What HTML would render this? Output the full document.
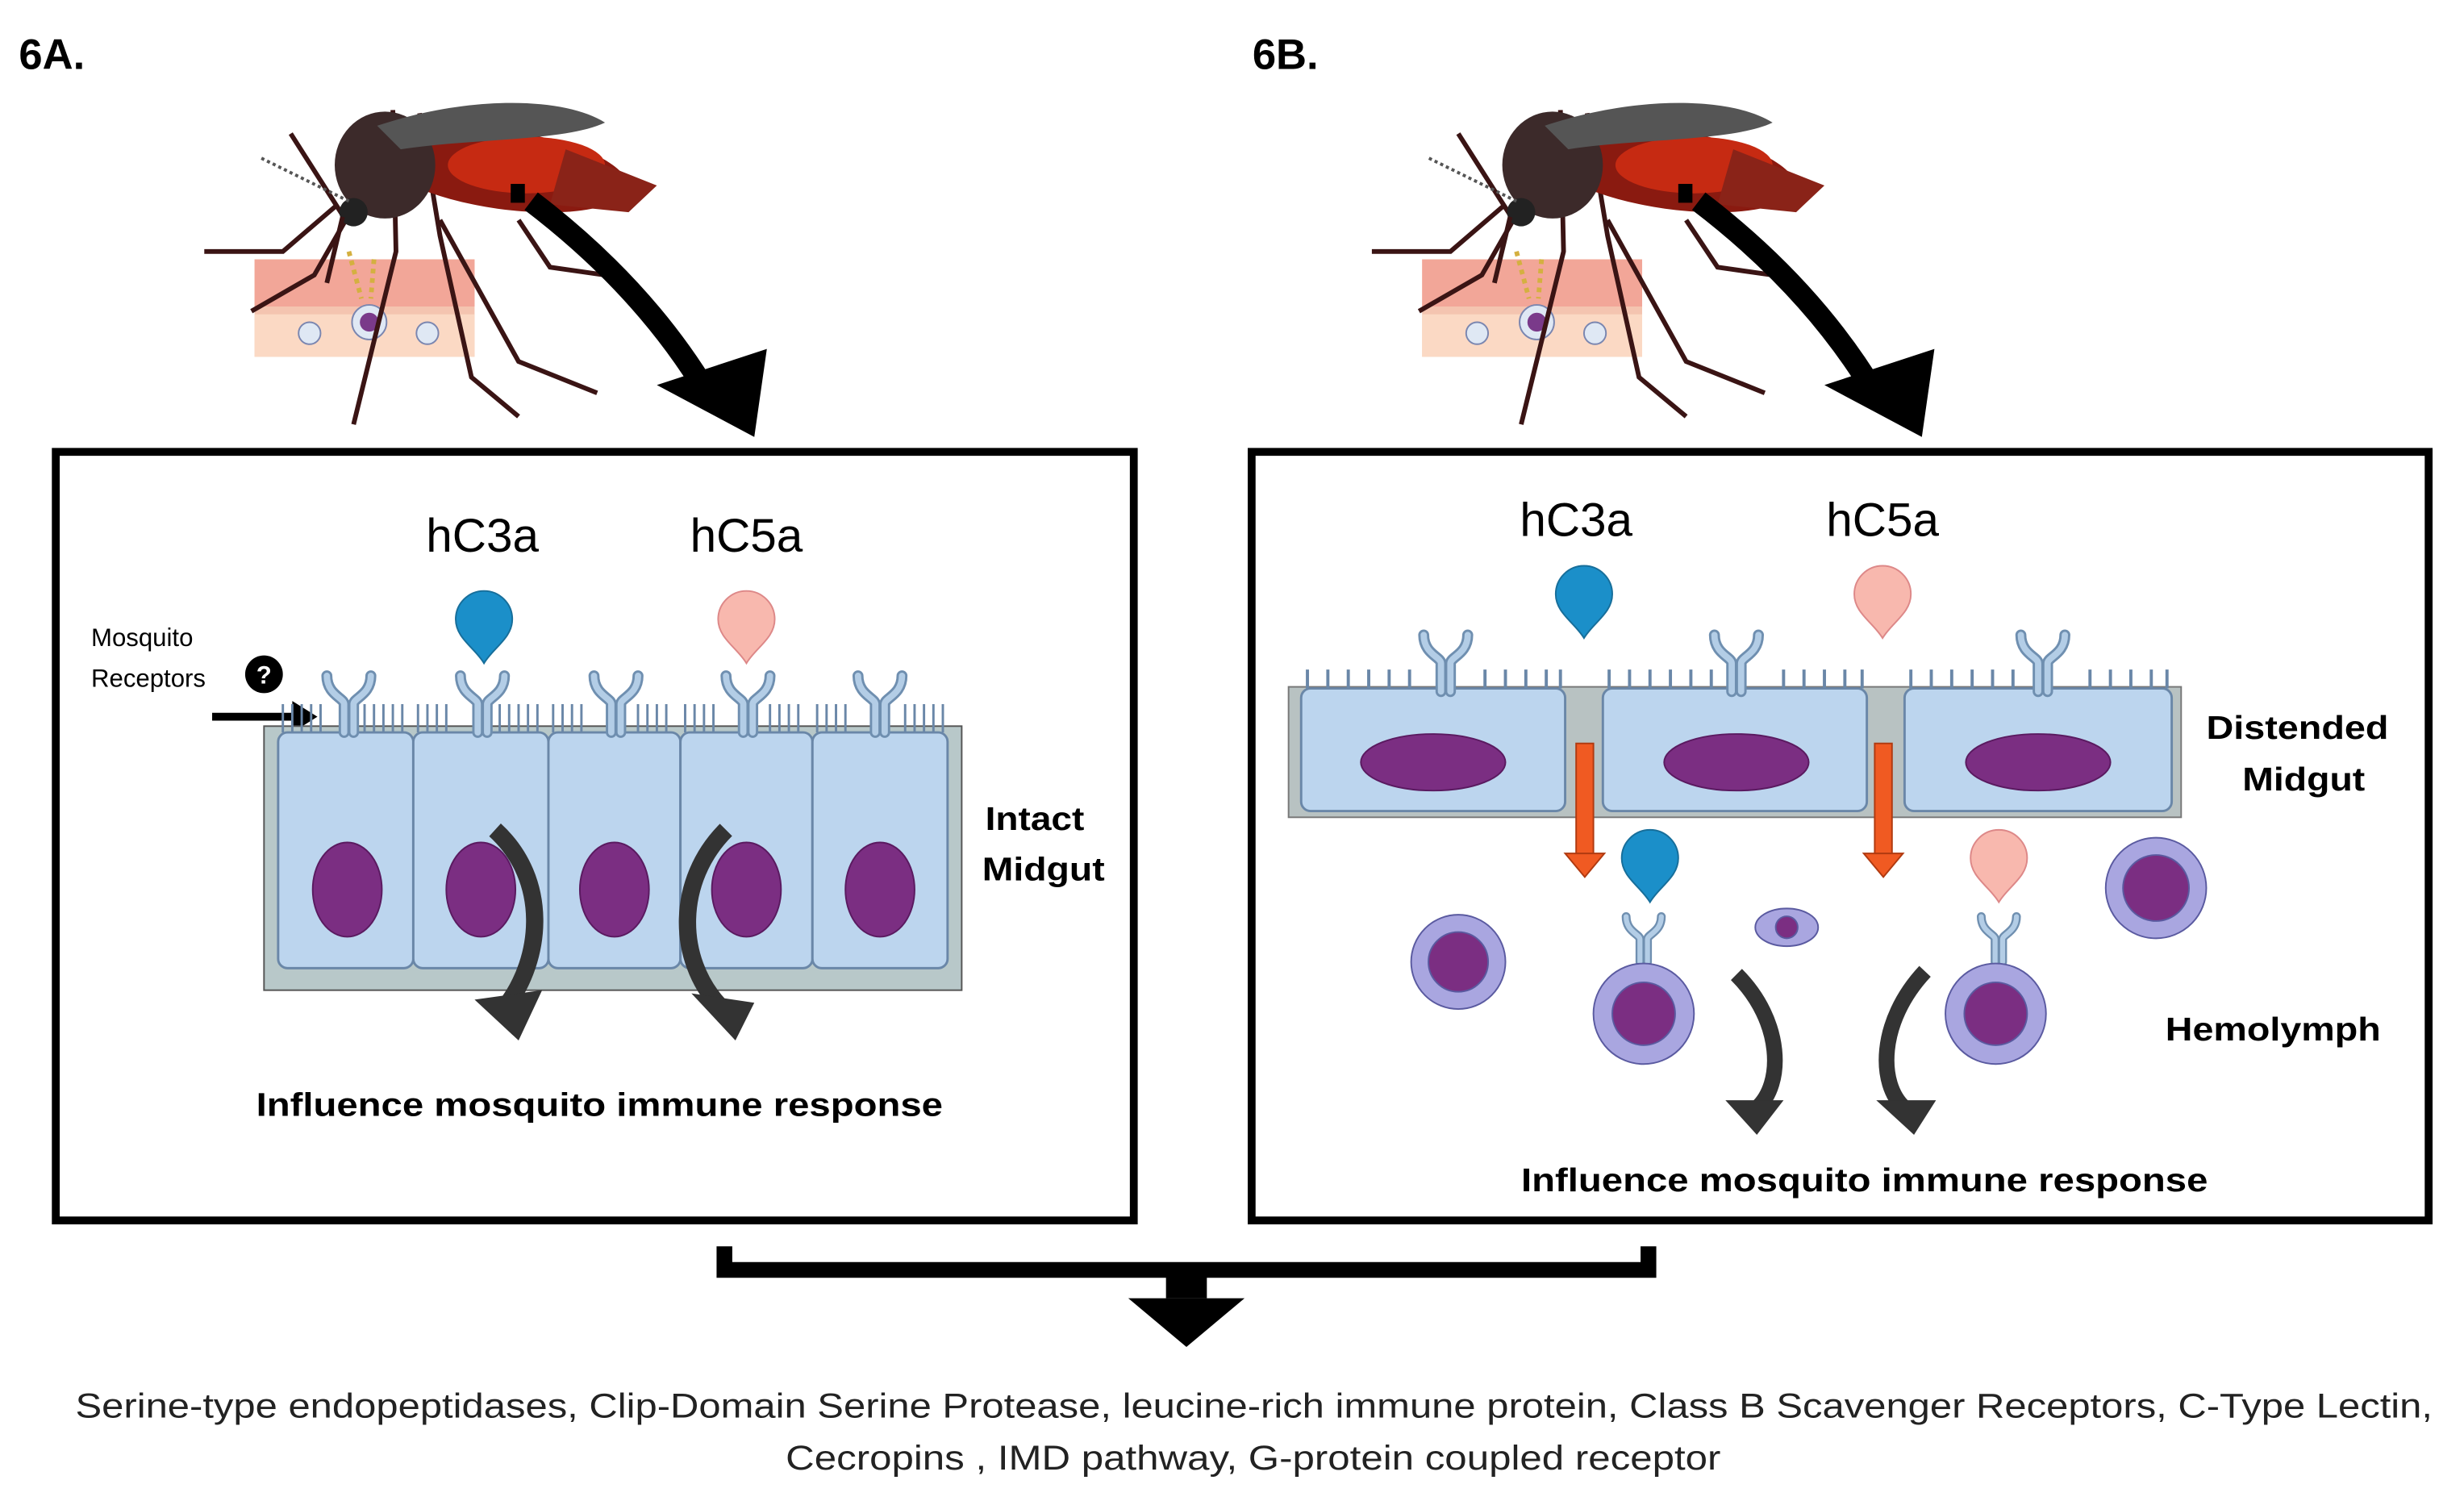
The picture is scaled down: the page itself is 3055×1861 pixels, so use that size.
<!DOCTYPE html>
<html><head><meta charset="utf-8"><style>
html,body{margin:0;padding:0;background:#fff}
svg{display:block}
text{font-family:"Liberation Sans",sans-serif}
</style></head><body>
<svg width="3055" height="1861" viewBox="0 0 1568 955" preserveAspectRatio="none" xmlns="http://www.w3.org/2000/svg">
<defs>
<path id="drop" d="M0,22 C-6,12 -18,6 -18,-6 A18,18 0 1 1 18,-6 C18,6 6,12 0,22Z"/>
<g id="rec">
 <path d="M-3,0 L-3,-18 C-3,-22 -14,-24 -14,-36 M3,0 L3,-18 C3,-22 14,-24 14,-36" fill="none" stroke="#6f8fb0" stroke-width="7" stroke-linecap="round"/>
 <path d="M-3,0 L-3,-18 C-3,-22 -14,-24 -14,-36 M3,0 L3,-18 C3,-22 14,-24 14,-36" fill="none" stroke="#b3cde6" stroke-width="4" stroke-linecap="round"/>
</g>
<g id="mosq">
 <rect x="162" y="165" width="140" height="62" fill="#f4c4b0"/>
 <rect x="162" y="165" width="140" height="30" fill="#f2a698"/>
 <rect x="162" y="200" width="140" height="27" fill="#fbd9c4"/>
 <circle cx="235" cy="205" r="11" fill="#dfe8f4" stroke="#7a86b0"/><circle cx="235" cy="205" r="6" fill="#7a3a8a"/>
 <circle cx="197" cy="212" r="7" fill="#dfe8f4" stroke="#7a86b0"/>
 <circle cx="272" cy="212" r="7" fill="#dfe8f4" stroke="#7a86b0"/>
 <path d="M222,160 L230,190 M238,165 L236,190" stroke="#d4b040" stroke-width="3" stroke-dasharray="3 3"/>
 <g fill="none" stroke="#3a1414" stroke-width="3">
  <path d="M185,85 L220,140 L200,175 L160,198"/>
  <path d="M215,130 L180,160 L130,160"/>
  <path d="M250,70 L252,160 L225,270"/>
  <path d="M267,72 L280,150 L300,240 L330,265"/>
  <path d="M280,140 L330,230 L380,250"/>
  <path d="M330,140 L350,170 L385,175"/>
 </g>
 <ellipse cx="320" cy="108" rx="80" ry="25" fill="#8a1a10" transform="rotate(8 320 108)"/>
 <ellipse cx="335" cy="105" rx="50" ry="18" fill="#c62a12"/>
 <path d="M360,95 L418,118 L400,135 L350,130Z" fill="#8a2318"/>
 <ellipse cx="245" cy="105" rx="32" ry="34" fill="#3c2a2a"/>
 <path d="M240,80 C300,60 360,62 385,78 C360,90 300,88 255,95Z" fill="#555"/>
 <circle cx="225" cy="135" r="9" fill="#222"/>
 <path d="M218,138 L208,180" stroke="#3a1414" stroke-width="3"/>
 <path d="M222,128 L165,100" stroke="#555" stroke-width="2" stroke-dasharray="2 2"/>
 <rect x="325" y="117" width="9" height="12" fill="#000"/>
</g>
</defs>

<text x="12" y="44" font-size="27" font-weight="bold">6A.</text>
<text x="797" y="44" font-size="27" font-weight="bold">6B.</text>

<use href="#mosq"/>
<path d="M338,128 C380,160 420,200 450,250" fill="none" stroke="#000" stroke-width="14"/>
<path d="M418,245 L488,222 L480,278Z" fill="#000"/>

<use href="#mosq" transform="translate(743,0)"/>
<path d="M1081,128 C1123,160 1163,200 1193,250" fill="none" stroke="#000" stroke-width="14"/>
<path d="M1161,245 L1231,222 L1223,278Z" fill="#000"/>

<rect x="35.5" y="287.5" width="686" height="489" fill="none" stroke="#000" stroke-width="5"/>
<text x="307" y="351" font-size="30" text-anchor="middle">hC3a</text>
<text x="475" y="351" font-size="30" text-anchor="middle">hC5a</text>
<use href="#drop" x="308" y="400" fill="#1b8fc9" stroke="#176e9a"/>
<use href="#drop" x="475" y="400" fill="#f8b8ae" stroke="#d88"/>
<text x="58" y="411" font-size="16">Mosquito</text>
<text x="58" y="437" font-size="16">Receptors</text>
<circle cx="168" cy="429" r="12" fill="#000"/>
<text x="168" y="435" font-size="16" font-weight="bold" fill="#fff" text-anchor="middle">?</text>
<path d="M135,456 L190,456" stroke="#000" stroke-width="5"/>
<path d="M186,446 L202,456 L186,466Z" fill="#000"/>
<rect x="168" y="462" width="444" height="168" fill="#b8c8c9" stroke="#555"/>
<g fill="#bcd5ee" stroke="#6a87a8" stroke-width="1.5">
 <rect x="177" y="466" width="86" height="150" rx="6"/>
 <rect x="263" y="466" width="86" height="150" rx="6"/>
 <rect x="349" y="466" width="84" height="150" rx="6"/>
 <rect x="433" y="466" width="84" height="150" rx="6"/>
 <rect x="517" y="466" width="86" height="150" rx="6"/>
</g>
<path d="M180,466 v-18 M186,466 v-18 M192,466 v-18 M198,466 v-18 M204,466 v-18 M232,466 v-18 M238,466 v-18 M244,466 v-18 M250,466 v-18 M256,466 v-18 M266,466 v-18 M272,466 v-18 M278,466 v-18 M284,466 v-18 M318,466 v-18 M324,466 v-18 M330,466 v-18 M336,466 v-18 M342,466 v-18 M352,466 v-18 M358,466 v-18 M364,466 v-18 M370,466 v-18 M406,466 v-18 M412,466 v-18 M418,466 v-18 M424,466 v-18 M436,466 v-18 M442,466 v-18 M448,466 v-18 M454,466 v-18 M490,466 v-18 M496,466 v-18 M502,466 v-18 M508,466 v-18 M520,466 v-18 M526,466 v-18 M532,466 v-18 M538,466 v-18 M576,466 v-18 M582,466 v-18 M588,466 v-18 M594,466 v-18 M600,466 v-18" stroke="#6a87a8" stroke-width="1.5"/>
<use href="#rec" x="222" y="466"/><use href="#rec" x="307" y="466"/><use href="#rec" x="392" y="466"/><use href="#rec" x="476" y="466"/><use href="#rec" x="560" y="466"/>
<g fill="#7b2e82" stroke="#5a1a60">
 <ellipse cx="221" cy="566" rx="22" ry="30"/><ellipse cx="306" cy="566" rx="22" ry="30"/><ellipse cx="391" cy="566" rx="22" ry="30"/><ellipse cx="475" cy="566" rx="22" ry="30"/><ellipse cx="560" cy="566" rx="22" ry="30"/>
</g>
<path d="M315,528 C350,560 345,610 322,640" fill="none" stroke="#333" stroke-width="11"/>
<path d="M302,636 L345,630 L330,662Z" fill="#333"/>
<path d="M462,528 C430,560 430,610 458,640" fill="none" stroke="#333" stroke-width="11"/>
<path d="M440,632 L480,638 L468,662Z" fill="#333"/>
<text x="627" y="528" font-size="21" font-weight="bold" textLength="63" lengthAdjust="spacingAndGlyphs">Intact</text>
<text x="625" y="560" font-size="21" font-weight="bold" textLength="78" lengthAdjust="spacingAndGlyphs">Midgut</text>
<text x="163" y="710" font-size="21" font-weight="bold" textLength="437" lengthAdjust="spacingAndGlyphs">Influence mosquito immune response</text>

<rect x="796.5" y="287.5" width="749" height="489" fill="none" stroke="#000" stroke-width="5"/>
<text x="1003" y="341" font-size="30" text-anchor="middle">hC3a</text>
<text x="1198" y="341" font-size="30" text-anchor="middle">hC5a</text>
<use href="#drop" x="1008" y="384" fill="#1b8fc9" stroke="#176e9a"/>
<use href="#drop" x="1198" y="384" fill="#f8b8ae" stroke="#d88"/>
<rect x="820" y="437" width="568" height="83" fill="#b8c2c2" stroke="#777"/>
<g fill="#bcd5ee" stroke="#6a87a8" stroke-width="1.5">
 <rect x="828" y="438" width="168" height="78" rx="6"/>
 <rect x="1020" y="438" width="168" height="78" rx="6"/>
 <rect x="1212" y="438" width="170" height="78" rx="6"/>
</g>
<path d="M832,438 v-12 M845,438 v-12 M858,438 v-12 M871,438 v-12 M884,438 v-12 M897,438 v-12 M945,438 v-12 M958,438 v-12 M971,438 v-12 M984,438 v-12 M993,438 v-12 M1024,438 v-12 M1037,438 v-12 M1050,438 v-12 M1063,438 v-12 M1076,438 v-12 M1089,438 v-12 M1135,438 v-12 M1148,438 v-12 M1161,438 v-12 M1174,438 v-12 M1185,438 v-12 M1216,438 v-12 M1229,438 v-12 M1242,438 v-12 M1255,438 v-12 M1268,438 v-12 M1281,438 v-12 M1330,438 v-12 M1343,438 v-12 M1356,438 v-12 M1369,438 v-12 M1379,438 v-12" stroke="#6a87a8" stroke-width="2"/>
<use href="#rec" x="920" y="440"/><use href="#rec" x="1105" y="440"/><use href="#rec" x="1300" y="440"/>
<g fill="#7b2e82" stroke="#5a1a60">
 <ellipse cx="912" cy="485" rx="46" ry="18"/><ellipse cx="1105" cy="485" rx="46" ry="18"/><ellipse cx="1297" cy="485" rx="46" ry="18"/>
</g>
<g fill="#f05a22" stroke="#b03a10">
 <rect x="1003" y="473" width="11" height="72"/><path d="M996,543 L1021,543 L1008.5,558Z"/>
 <rect x="1193" y="473" width="11" height="72"/><path d="M1186,543 L1211,543 L1198.5,558Z"/>
</g>
<use href="#drop" x="1050" y="552" fill="#1b8fc9" stroke="#176e9a"/>
<use href="#drop" x="1272" y="552" fill="#f8b8ae" stroke="#d88"/>
<use href="#rec" x="1046" y="612" transform="scale(0.8) translate(261.5 153)"/>
<use href="#rec" x="1272" y="612" transform="scale(0.8) translate(318 153)"/>
<g stroke="#5a5aa0">
 <circle cx="928" cy="612" r="30" fill="#a9a6e0"/><circle cx="928" cy="612" r="19" fill="#7b2e82"/>
 <circle cx="1046" cy="645" r="32" fill="#a9a6e0"/><circle cx="1046" cy="645" r="20" fill="#7b2e82"/>
 <ellipse cx="1137" cy="590" rx="20" ry="12" fill="#a9a6e0"/><circle cx="1137" cy="590" r="7" fill="#7b2e82"/>
 <circle cx="1270" cy="645" r="32" fill="#a9a6e0"/><circle cx="1270" cy="645" r="20" fill="#7b2e82"/>
 <circle cx="1372" cy="565" r="32" fill="#a9a6e0"/><circle cx="1372" cy="565" r="21" fill="#7b2e82"/>
</g>
<path d="M1105,620 C1135,650 1135,690 1118,705" fill="none" stroke="#333" stroke-width="10"/>
<path d="M1098,700 L1135,700 L1118,722Z" fill="#333"/>
<path d="M1225,618 C1195,650 1195,690 1212,705" fill="none" stroke="#333" stroke-width="10"/>
<path d="M1194,700 L1232,700 L1218,722Z" fill="#333"/>
<text x="1404" y="470" font-size="21" font-weight="bold" textLength="116" lengthAdjust="spacingAndGlyphs">Distended</text>
<text x="1427" y="503" font-size="21" font-weight="bold" textLength="78" lengthAdjust="spacingAndGlyphs">Midgut</text>
<text x="1378" y="662" font-size="21" font-weight="bold" textLength="137" lengthAdjust="spacingAndGlyphs">Hemolymph</text>
<text x="968" y="758" font-size="21" font-weight="bold" textLength="437" lengthAdjust="spacingAndGlyphs">Influence mosquito immune response</text>

<path d="M461,793 L461,808 L1049,808 L1049,793" fill="none" stroke="#000" stroke-width="10"/>
<rect x="742" y="808" width="26" height="18" fill="#000"/>
<path d="M718,826 L792,826 L755,857Z" fill="#000"/>
<text x="48" y="902" font-size="22" fill="#222" textLength="1500" lengthAdjust="spacingAndGlyphs">Serine-type endopeptidases, Clip-Domain Serine Protease, leucine-rich immune protein, Class B Scavenger Receptors, C-Type Lectin,</text>
<text x="500" y="935" font-size="22" fill="#222" textLength="595" lengthAdjust="spacingAndGlyphs">Cecropins , IMD pathway, G-protein coupled receptor</text>
</svg>
</body></html>
